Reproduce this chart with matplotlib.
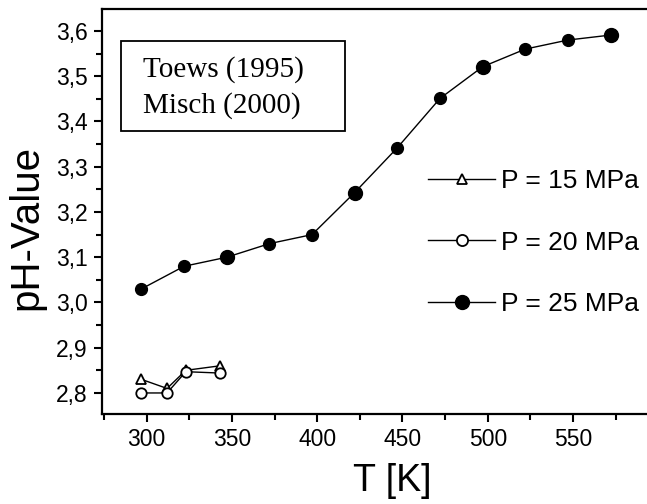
import matplotlib
matplotlib.use("Agg")
import matplotlib.pyplot as plt
from matplotlib.ticker import MultipleLocator, FuncFormatter
from matplotlib.patches import Rectangle

# Data
T15 = [297, 312, 323, 343]
ph15 = [2.83, 2.81, 2.85, 2.86]
T20 = [297, 312, 323, 343]
ph20 = [2.80, 2.80, 2.847, 2.844]
T25 = [297, 322, 347, 372, 397, 422, 447, 472, 497, 522, 547, 572]
ph25 = [3.03, 3.08, 3.10, 3.13, 3.15, 3.243, 3.342, 3.451, 3.521, 3.560, 3.580, 3.591]
# points drawn with a larger (overlapping) symbol
T25_big = [347, 422, 497, 572]
ph25_big = [3.10, 3.243, 3.521, 3.591]

labels = ["P = 15 MPa", "P = 20 MPa", "P = 25 MPa"]
refs = ["Toews (1995)", "Misch (2000)"]

W, H = 647, 504
fig = plt.figure(figsize=(W / 100, H / 100), dpi=100)
xlo, xhi = 273.7, 593.4
ylo, yhi = 2.7535, 3.6486
px_per_K = 1.706
ax_wpx = (xhi - xlo) * px_per_K
ax_hpx = 414 - 9
ax = fig.add_axes([101.7 / W, (H - 414) / H, ax_wpx / W, ax_hpx / H])

sans = "Liberation Sans"
serif = "Liberation Serif"

l15, = ax.plot(T15, ph15, color="black", lw=1.0, marker="^", ms=7.5,
               mfc="white", mec="black", mew=1.3, label=labels[0], zorder=3)
l20, = ax.plot(T20, ph20, color="black", lw=1.0, marker="o", ms=7.5,
               mfc="white", mec="black", mew=1.3, label=labels[1], zorder=3)
l25, = ax.plot(T25, ph25, color="black", lw=1.0, marker="o", ms=8.5,
               mfc="black", mec="black", label=labels[2], zorder=3)
ax.plot(T25_big, ph25_big, ls="none", marker="o", ms=10, mfc="black",
        mec="black", zorder=4)

ax.set_xlim(xlo, xhi)
ax.set_ylim(ylo, yhi)
ax.xaxis.set_major_locator(MultipleLocator(50))
ax.xaxis.set_minor_locator(MultipleLocator(25))
ax.yaxis.set_major_locator(MultipleLocator(0.1))
ax.yaxis.set_minor_locator(MultipleLocator(0.05))
ax.yaxis.set_major_formatter(FuncFormatter(lambda v, p: f"{v:.1f}".replace(".", ",")))

for s in ["left", "bottom", "top"]:
    ax.spines[s].set_linewidth(1.6)
ax.spines["right"].set_visible(False)
ax.tick_params(which="major", direction="out", length=6, width=1.5,
               labelsize=16.5, pad=4)
ax.tick_params(which="minor", direction="out", length=4, width=1.5)
for lab in ax.get_xticklabels() + ax.get_yticklabels():
    lab.set_fontfamily(sans)

ax.set_xlabel("T [K]", fontsize=27, fontfamily=sans)
ax.xaxis.set_label_coords((392 - 101.7) / ax_wpx, (414 - 463) / ax_hpx)
ax.set_ylabel("pH-Value", fontsize=29, fontfamily=sans)
ax.yaxis.set_label_coords((45 - 101.7) / ax_wpx, (414 - 228) / ax_hpx)

leg = ax.legend(handles=[l15, l20, l25], loc="upper left",
                bbox_to_anchor=(428 / W, 1 - 169 / H),
                bbox_transform=fig.transFigure, frameon=False,
                prop={"family": sans, "size": 19}, handlelength=2.55,
                handletextpad=0.2, labelspacing=1.43, borderpad=0,
                borderaxespad=0, markerscale=1.0)
for h, ms in zip(leg.legend_handles, [6.5, 8, 10]):
    h.set_markersize(ms)

# Reference box
ax.add_patch(Rectangle((121 / W, 1 - 131 / H), (345 - 121) / W, (131 - 41) / H,
                       transform=fig.transFigure, fill=False, ec="black",
                       lw=1.3, zorder=5))
fig.text(143 / W, 1 - 70 / H, refs[0], fontsize=21, fontfamily=serif,
         va="center", ha="left")
fig.text(143 / W, 1 - 106 / H, refs[1], fontsize=21, fontfamily=serif,
         va="center", ha="left")

fig.savefig("out.png", dpi=100)
